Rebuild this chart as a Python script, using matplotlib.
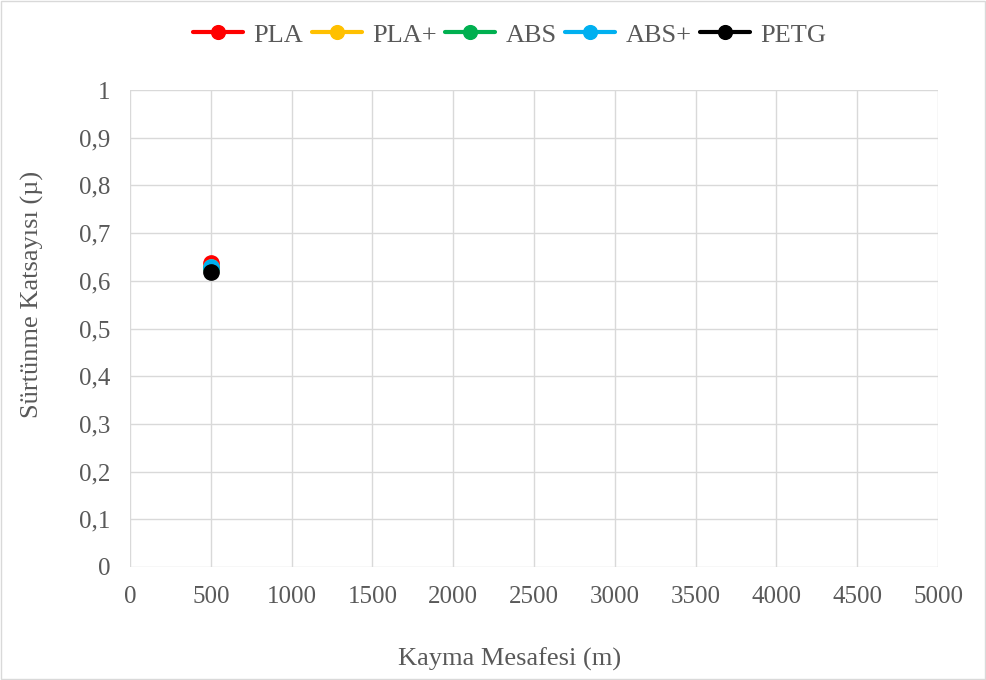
import numpy as np
import matplotlib.pyplot as plt
from matplotlib.patches import Rectangle

# friction coefficient vs sliding distance
materials = ['PLA', 'PLA+', 'ABS', 'ABS+', 'PETG']
colors = ['#ff0000', '#ffc000', '#00b050', '#00b0f0', '#000000']
distance = [500]
mu = {
    'PLA': [0.638],
    'PLA+': [0.630],
    'ABS': [0.627],
    'ABS+': [0.630],
    'PETG': [0.618],
}

plt.rcParams['font.family'] = ['Liberation Serif', 'DejaVu Serif']
txt = '#595959'

fig = plt.figure(figsize=(9.87, 6.8), dpi=100)
ax = fig.add_axes([0.1317, 0.1662, 0.8187, 0.7014])

for m, c in zip(materials, colors):
    ax.plot(distance, mu[m], color=c, marker='o', markersize=11, lw=3,
            label=m, solid_capstyle='round')

ax.set_xlim(0, 5000)
ax.set_ylim(0, 1)
ax.set_xticks(np.arange(0, 5001, 500))
ax.set_yticks(np.arange(0, 1.01, 0.1))
ax.set_yticklabels(['0'] + [('%.1f' % v).replace('.', ',') for v in np.arange(0.1, 0.95, 0.1)] + ['1'])
ax.grid(True, color='#d9d9d9', lw=1)
ax.set_axisbelow(True)
for s in ax.spines.values():
    s.set_visible(False)
ax.tick_params(length=0, labelsize=18, colors=txt)
ax.tick_params(axis='x', pad=14)
ax.tick_params(axis='y', pad=14)

ax.set_xlabel('Kayma Mesafesi (m)', fontsize=19, color=txt)
ax.xaxis.set_label_coords(0.47, -0.17)
ax.set_ylabel('Sürtünme Katsayısı (µ)', fontsize=19, color=txt)
ax.yaxis.set_label_coords(-0.107, 0.572)

leg = ax.legend(loc='upper center', bbox_to_anchor=(0.47, 1.19), ncol=5, frameon=False,
                fontsize=19, handlelength=1.9, columnspacing=0.33, handletextpad=0.38,
                markerscale=0.9)
for t in leg.get_texts():
    t.set_color(txt)

fig.patches.append(Rectangle((0.001, 0.001), 0.997, 0.997, transform=fig.transFigure,
                             fill=False, edgecolor='#d9d9d9', lw=1))

fig.savefig('out.png', dpi=100)
